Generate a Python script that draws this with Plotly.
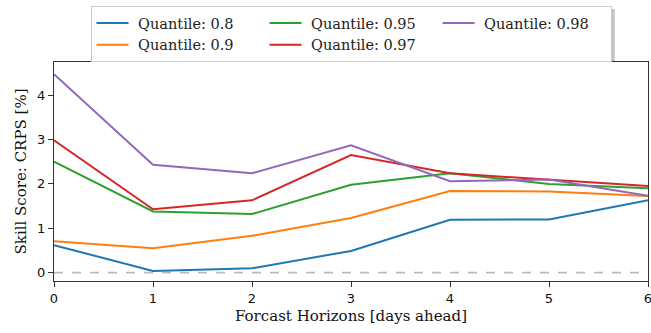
import plotly.graph_objects as go

horizons = [0, 1, 2, 3, 4, 5, 6]
q08 = [0.62, 0.04, 0.10, 0.49, 1.19, 1.20, 1.63]
q09 = [0.71, 0.55, 0.83, 1.23, 1.84, 1.83, 1.73]
q095 = [2.50, 1.38, 1.32, 1.98, 2.24, 2.00, 1.90]
q097 = [2.98, 1.43, 1.63, 2.65, 2.24, 2.10, 1.95]
q098 = [4.47, 2.43, 2.24, 2.87, 2.06, 2.10, 1.73]

series = [
    ("Quantile: 0.8", q08, "#1f77b4", 1),
    ("Quantile: 0.9", q09, "#ff7f0e", 4),
    ("Quantile: 0.95", q095, "#2ca02c", 2),
    ("Quantile: 0.97", q097, "#d62728", 5),
    ("Quantile: 0.98", q098, "#9467bd", 3),
]

fig = go.Figure()
for name, vals, color, rank in series:
    fig.add_trace(go.Scatter(x=horizons, y=vals, mode="lines", name=" " + name,
                             line=dict(color=color, width=2), legendrank=rank))

fig.add_shape(type="line", xref="paper", yref="y", x0=0, x1=1, y0=0, y1=0,
              line=dict(color="#b0bec9", width=1.8, dash="dash"), layer="below")
# legend shadow
fig.add_shape(type="rect", xref="paper", yref="paper", x0=0.0657, x1=0.944,
              y0=1.004, y1=1.242, line=dict(width=0), fillcolor="#c2c2c2", layer="below")

fig.update_layout(
    width=651, height=333,
    margin=dict(l=54, r=3, t=62, b=52, autoexpand=False),
    plot_bgcolor="white", paper_bgcolor="white",
    showlegend=True,
    legend=dict(orientation="h", x=0.5, xanchor="center", y=1.2557, yanchor="top",
                entrywidth=126, entrywidthmode="pixels",
                font=dict(family="DejaVu Serif", size=14.5, color="#222"),
                bgcolor="white", bordercolor="#cccccc", borderwidth=1,
                tracegroupgap=0, itemwidth=32),
    xaxis=dict(range=[0, 6], tickvals=horizons, showgrid=False, zeroline=False,
               showline=True, linecolor="#333", linewidth=1.2, mirror=True,
               ticks="outside", ticklen=5, tickcolor="#333", ticklabeloverflow="allow",
               tickfont=dict(family="DejaVu Sans", size=13, color="#111"),
               title=dict(text="Forcast Horizons [days ahead]", standoff=5,
                          font=dict(family="DejaVu Serif", size=15, color="#111"))),
    yaxis=dict(range=[-0.187, 4.745], tickvals=[0, 1, 2, 3, 4], showgrid=False, zeroline=False,
               showline=True, linecolor="#333", linewidth=1.2, mirror=True,
               ticks="outside", ticklen=5, tickcolor="#333",
               tickfont=dict(family="DejaVu Sans", size=13, color="#111"),
               title=dict(text="Skill Score: CRPS [%]", standoff=6,
                          font=dict(family="DejaVu Serif", size=15, color="#111"))),
)

fig.write_html("out.html", config={"displayModeBar": False},
               post_script="document.body.style.margin='0';document.body.style.overflow='hidden';")
